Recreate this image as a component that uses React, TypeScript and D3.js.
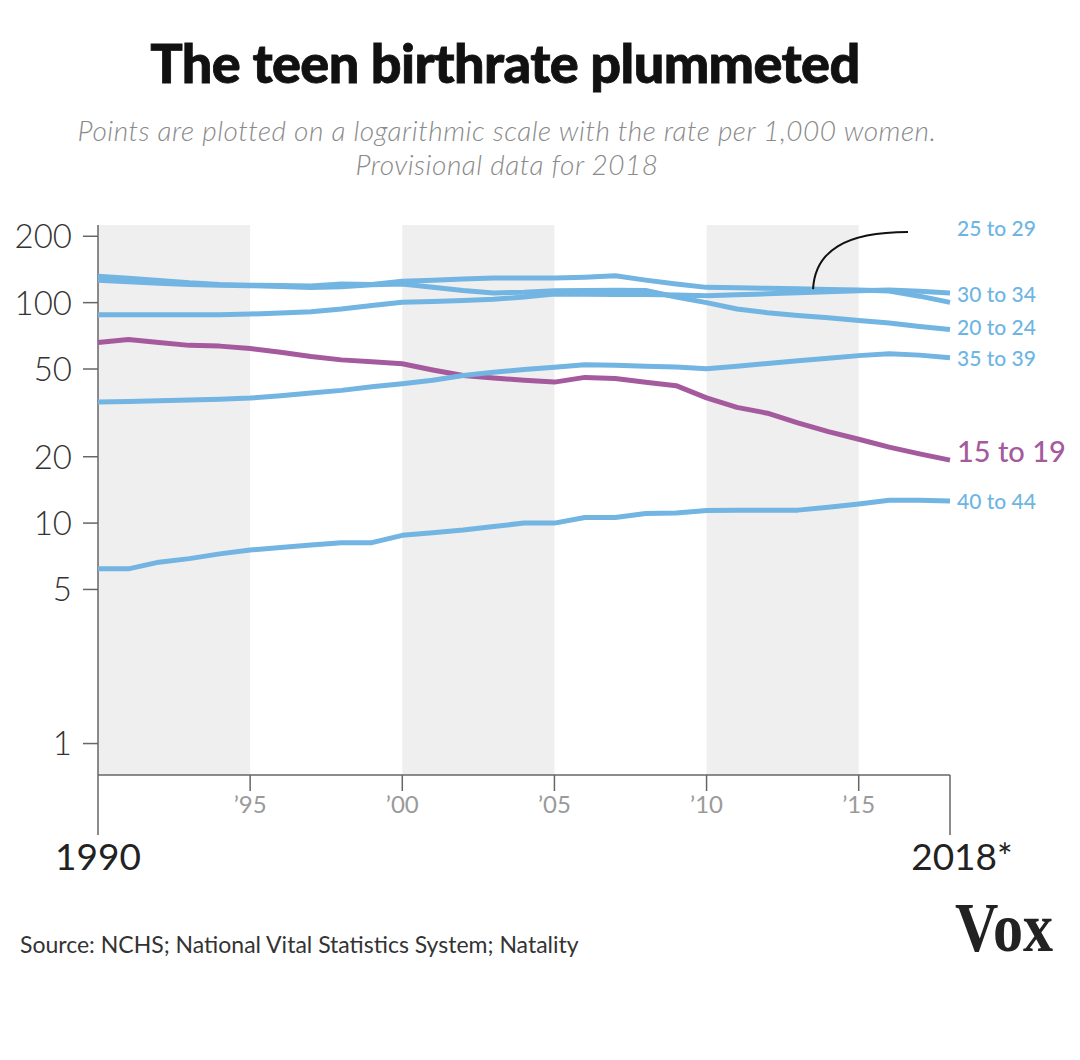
import React from 'react';
import * as d3 from 'd3';

// ---------- data (births per 1,000 women) ----------
const years = [
  1990, 1991, 1992, 1993, 1994, 1995, 1996, 1997, 1998, 1999,
  2000, 2001, 2002, 2003, 2004, 2005, 2006, 2007, 2008, 2009,
  2010, 2011, 2012, 2013, 2014, 2015, 2016, 2017, 2018,
];

const rate15to19 = [
  66, 68, 66, 64, 63.5, 62, 59.5, 57, 55, 54,
  52.8, 49.5, 46.7, 45.5, 44.5, 43.6, 45.8, 45.3, 43.5, 42,
  37, 33.5, 31.5, 28.5, 26, 24, 22.1, 20.6, 19.3,
];
const rate20to24 = [
  126.4, 124.5, 122.5, 121, 120, 119.4, 118.5, 117, 118, 120.6,
  121.5, 117.5, 113.5, 110.7, 111.5, 113.1, 113.5, 113.8, 113.5, 106,
  100, 93.6, 90, 87.5, 85.5, 83, 80.8, 78, 75.5,
];
const rate25to29 = [
  131.8, 129, 126, 123, 121, 120, 119.5, 119, 121.5, 121,
  124.9, 126.5, 128, 129.3, 129.3, 129.3, 130.5, 132.5, 126.5, 121.5,
  117.3, 116.8, 116.2, 115.6, 114.8, 114, 113, 107, 100.3,
];
const rate30to34 = [
  88.2, 88.2, 88.2, 88.2, 88.2, 88.8, 89.8, 91, 93.5, 97,
  100.3, 101.2, 102.3, 103.5, 106, 109.5, 109.3, 109, 108.8, 108.3,
  107.6, 108.5, 109.6, 110.8, 112, 113.2, 114.2, 112.5, 110.6,
];
const rate35to39 = [
  35.4, 35.6, 35.9, 36.2, 36.5, 36.9, 37.8, 38.9, 40, 41.5,
  42.9, 44.5, 46.7, 48.3, 49.7, 50.9, 52.3, 52, 51.5, 51,
  50.1, 51.5, 53, 54.5, 56, 57.5, 58.6, 57.8, 56.2,
];
const rate40to44 = [
  6.2, 6.2, 6.65, 6.9, 7.25, 7.55, 7.75, 7.95, 8.15, 8.15,
  8.8, 9.05, 9.3, 9.65, 10, 10, 10.6, 10.6, 11.05, 11.1,
  11.4, 11.45, 11.45, 11.45, 11.8, 12.2, 12.7, 12.7, 12.6,
];

const seriesNames = ['15 to 19', '20 to 24', '25 to 29', '30 to 34', '35 to 39', '40 to 44'];
const seriesValues = [rate15to19, rate20to24, rate25to29, rate30to34, rate35to39, rate40to44];

const yTickValues = [1, 5, 10, 20, 50, 100, 200];
const xMinorTicks = [1995, 2000, 2005, 2010, 2015];
const xMinorLabels = ['\u201995', '\u201900', '\u201905', '\u201910', '\u201915'];
const shadedStarts = [1990, 2000, 2010];
const shadedEnds = [1995, 2005, 2015];
const annotationYear = 2013.5;

// ---------- styling ----------
const BLUE = '#72b4e2';
const BLUE_TEXT = '#6db5e3';
const PURPLE = '#a55a9d';
const SANS = "Lato, 'Open Sans', 'Noto Sans', sans-serif";

export default function App() {
  const left = 98;
  const right = 950;
  const top = 225;
  const bottom = 775;

  const x = d3.scaleLinear().domain([1990, 2018]).range([left, right]);
  const y = d3.scaleLog().domain([0.72, 225]).range([bottom, top]);

  const line = d3
    .line<number>()
    .x((_, i) => x(years[i]))
    .y((d) => y(d))
    .curve(d3.curveLinear);

  const lastYear = years[years.length - 1];
  const labelX = x(lastYear) + 7;

  // label vertical nudges to avoid overlaps (pixels)
  const labelNudge: Record<string, number> = {
    '15 to 19': -8,
    '20 to 24': -2,
    '25 to 29': 0,
    '30 to 34': 2,
    '35 to 39': 1,
    '40 to 44': 1,
  };

  const labelY = (name: string, vals: number[]) => {
    if (name === '25 to 29') return y(y.domain()[1]) + 4;
    return y(vals[vals.length - 1]) + labelNudge[name];
  };

  // annotation curve from the 25-29 line to its label
  const i0 = Math.floor(annotationYear - years[0]);
  const t = annotationYear - years[i0];
  const annVal = Math.exp(
    Math.log(rate25to29[i0]) * (1 - t) + Math.log(rate25to29[i0 + 1]) * t
  );
  const sx = x(annotationYear);
  const sy = y(annVal);
  const ex = labelX - 49;
  const ey = labelY('25 to 29', rate25to29) + 3;
  const ann = d3.path();
  ann.moveTo(sx, sy);
  ann.bezierCurveTo(sx + 2, sy - 38, sx + 32, ey, ex, ey);

  return (
    <svg
      width={1080}
      height={1060}
      viewBox="0 0 1080 1060"
      style={{ position: 'absolute', left: 0, top: 0, background: '#fff' }}
    >
      <rect x={0} y={0} width={1080} height={1060} fill="#fff" />

      {/* title */}
      <text
        x={505}
        y={83}
        textAnchor="middle"
        fontFamily={SANS}
        fontWeight={900}
        fontSize={54}
        letterSpacing={-0.6}
        fill="#111"
        stroke="#111"
        strokeWidth={0.8}
      >
        The teen birthrate plummeted
      </text>
      <text
        x={507}
        y={141}
        textAnchor="middle"
        fontFamily={SANS}
        fontStyle="italic"
        fontWeight={300}
        fontSize={28}
        letterSpacing={0.5}
        fill="#8a8a8a"
      >
        Points are plotted on a logarithmic scale with the rate per 1,000 women.
      </text>
      <text
        x={507}
        y={175}
        textAnchor="middle"
        fontFamily={SANS}
        fontStyle="italic"
        fontWeight={300}
        fontSize={28}
        letterSpacing={0.5}
        fill="#8a8a8a"
      >
        Provisional data for 2018
      </text>

      {/* shaded periods */}
      {shadedStarts.map((s, i) => (
        <rect
          key={s}
          x={x(s)}
          y={top}
          width={x(shadedEnds[i]) - x(s)}
          height={bottom - top}
          fill="#efefef"
        />
      ))}

      {/* y axis */}
      <line x1={left} x2={left} y1={top} y2={bottom + 60} stroke="#666" strokeWidth={1.5} />
      {yTickValues.map((v) => (
        <g key={v}>
          <line x1={left - 15} x2={left} y1={y(v)} y2={y(v)} stroke="#666" strokeWidth={1.5} />
          <text
            x={left - 26}
            y={y(v)}
            dy="0.36em"
            textAnchor="end"
            fontFamily={SANS}
            fontWeight={300}
            fontSize={33}
            fill="#333"
          >
            {v}
          </text>
        </g>
      ))}

      {/* x axis */}
      <line x1={left} x2={right} y1={bottom} y2={bottom} stroke="#666" strokeWidth={1.5} />
      <line x1={right} x2={right} y1={bottom} y2={bottom + 60} stroke="#666" strokeWidth={1.5} />
      {xMinorTicks.map((yr, i) => (
        <g key={yr}>
          <line x1={x(yr)} x2={x(yr)} y1={bottom} y2={bottom + 16} stroke="#666" strokeWidth={1.5} />
          <text
            x={x(yr)}
            y={bottom + 38}
            textAnchor="middle"
            fontFamily={SANS}
            fontSize={24}
            fill="#9a9a9a"
          >
            {xMinorLabels[i]}
          </text>
        </g>
      ))}
      <text x={x(1990)} y={870} textAnchor="middle" fontFamily={SANS} fontSize={37} fill="#222">
        1990
      </text>
      <text x={x(2018) + 12} y={870} textAnchor="middle" fontFamily={SANS} fontSize={37} fill="#222">
        2018*
      </text>

      {/* lines */}
      {seriesValues.map((vals, i) => (
        <path
          key={seriesNames[i]}
          d={line(vals) || ''}
          fill="none"
          stroke={seriesNames[i] === '15 to 19' ? PURPLE : BLUE}
          strokeWidth={5}
          strokeLinejoin="round"
          strokeLinecap="butt"
        />
      ))}

      {/* annotation */}
      <path d={ann.toString()} fill="none" stroke="#111" strokeWidth={2} />

      {/* series labels */}
      {seriesValues.map((vals, i) => {
        const name = seriesNames[i];
        const teen = name === '15 to 19';
        return (
          <text
            key={name}
            x={labelX}
            y={labelY(name, vals)}
            dy="0.35em"
            fontFamily={SANS}
            fontWeight={500}
            fontSize={teen ? 29 : 21}
            fill={teen ? PURPLE : BLUE_TEXT}
          >
            {name}
          </text>
        );
      })}

      {/* source */}
      <text x={20} y={953} fontFamily={SANS} fontSize={23} fill="#333">
        Source: NCHS; National Vital Statistics System; Natality
      </text>

      {/* logo */}
      <text
        x={955}
        y={951}
        fontFamily="'Liberation Serif', 'DejaVu Serif', serif"
        fontWeight={700}
        fontSize={70}
        textLength={98}
        lengthAdjust="spacingAndGlyphs"
        fill="#222"
      >
        Vox
      </text>
    </svg>
  );
}
